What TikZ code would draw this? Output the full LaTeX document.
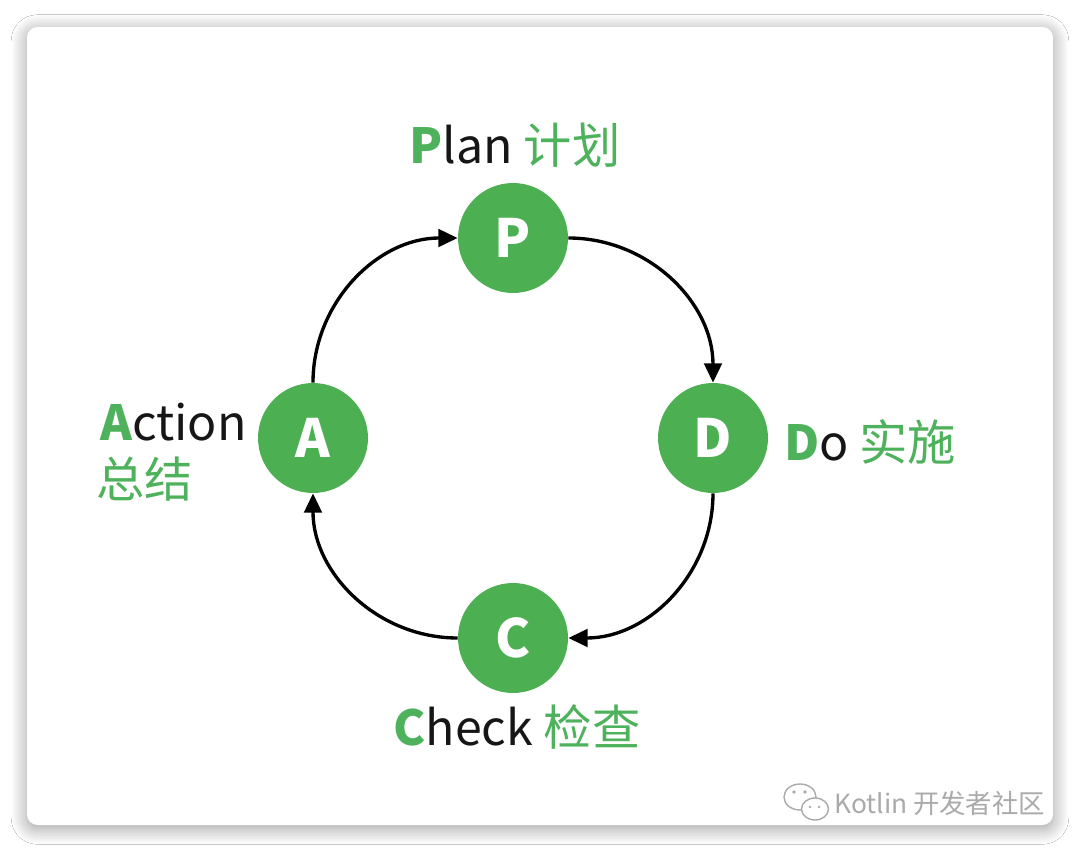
\documentclass[tikz,border=0pt]{standalone}
\usepackage{fontspec}
\setmainfont{Noto Sans CJK SC}
\newfontfamily\cjk{Noto Sans CJK SC}
\usetikzlibrary{arrows.meta, positioning, shadows.blur}
\definecolor{pdcagreen}{RGB}{76,175,82}
\definecolor{labelgreen}{RGB}{78,178,92}
\definecolor{inkgray}{RGB}{22,22,22}
\definecolor{markgray}{RGB}{170,170,170}
\newcommand{\initial}[1]{\textcolor{labelgreen}{\bfseries #1}}
\newcommand{\zh}[1]{{\cjk\color{labelgreen}#1}}

\begin{document}
\begin{tikzpicture}[
        x=0.02cm, y=-0.02cm,
        stage/.style={circle, fill=pdcagreen, text=white, minimum size=2.2cm, inner sep=0pt,
            font=\fontsize{30}{30}\selectfont\bfseries},
        tag/.style={text=inkgray, inner sep=0pt, font=\fontsize{27.5}{27.5}\selectfont},
        flow/.style={-{Triangle[length=11pt,width=10pt]}, line width=1.9pt, black},
        bubble/.style={draw=markgray, fill=white, line width=0.8pt}
    ]
        \fill[white] (0,0) rectangle (1080,852);
        \useasboundingbox (0,0) rectangle (1080,852);
        \fill[white, rounded corners=6pt, blur shadow={shadow xshift=0pt, shadow yshift=-2pt,
            shadow blur radius=9pt, shadow blur steps=12, shadow opacity=40}] (27,27) rectangle (1053,825);

        \node[stage] (p) at (513,238) {P};
        \node[stage] (d) at (713,438) {D};
        \node[stage] (c) at (513,638) {C};
        \node[stage] (a) at (313,438) {A};

        \draw[flow] (p.east) to[out=0, in=90] (d.north);
        \draw[flow] (d.south) to[out=-90, in=0] (c.east);
        \draw[flow] (c.west) to[out=180, in=-90] (a.south);
        \draw[flow] (a.north) to[out=90, in=180] (p.west);

        \node[tag, anchor=base] (plan) at (515,163) {\initial{P}lan \zh{计划}};
        \node[tag, anchor=base west] (do) at (784,460) {\initial{D}o \zh{实施}};
        \node[tag, anchor=base] (check) at (517,745) {\initial{C}heck \zh{检查}};
        \node[tag, anchor=base west] (action) at (100,440) {\initial{A}ction};
        \node[tag, anchor=base west] (actionzh) at (96,497) {\zh{总结}};

        \draw[bubble] (800,797) ellipse (16 and 13);
        \draw[bubble] (815,809) ellipse (13.5 and 11);
        \fill[markgray] (794,792) circle (1.8) (805,792) circle (1.8);
        \fill[markgray] (810,807) circle (1.4) (819,807) circle (1.4);
        \node[anchor=west, inner sep=0pt, text=markgray, font=\fontsize{15}{15}\selectfont\cjk]
            (mark) at (834,803) {Kotlin 开发者社区};
    \end{tikzpicture}
\end{document}
